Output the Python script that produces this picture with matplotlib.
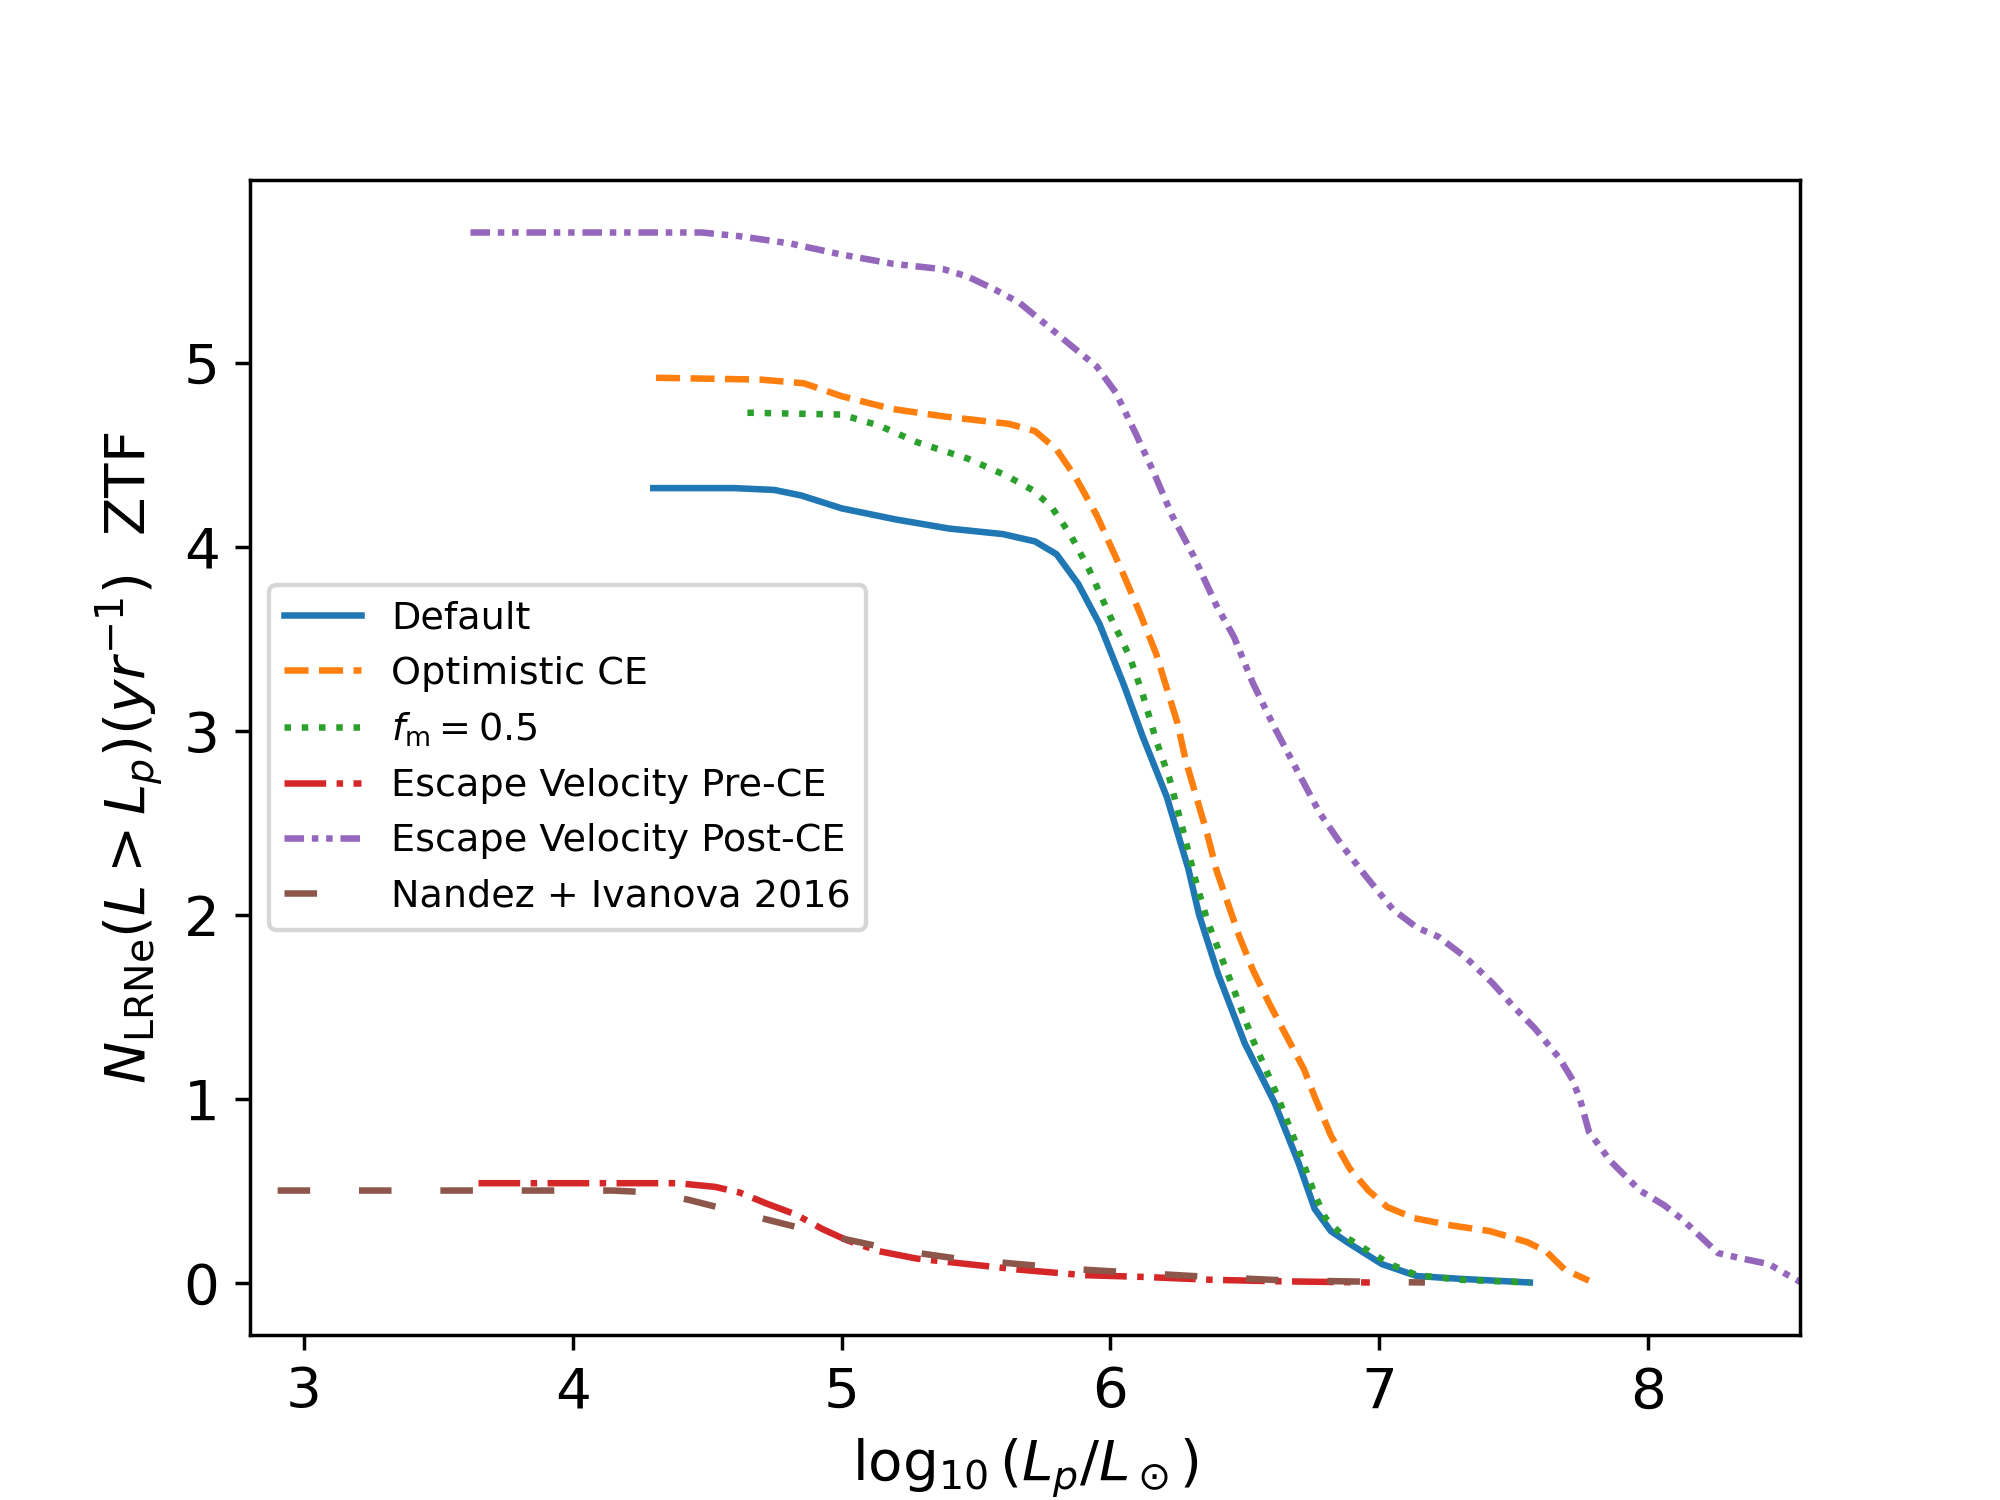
import numpy as np
import matplotlib
matplotlib.use('Agg')
import matplotlib.pyplot as plt

# Default
default_x = [4.30, 4.60, 4.75, 4.85, 5.00, 5.20, 5.40, 5.60, 5.72, 5.80, 5.88, 5.96, 6.05,
             6.12, 6.21, 6.29, 6.33, 6.40, 6.50, 6.61, 6.70, 6.76, 6.82, 6.88, 7.01, 7.14,
             7.30, 7.56]
default_y = [4.32, 4.32, 4.31, 4.28, 4.21, 4.15, 4.10, 4.07, 4.03, 3.96, 3.80, 3.58, 3.25,
             2.97, 2.64, 2.25, 2.00, 1.68, 1.30, 0.98, 0.65, 0.40, 0.28, 0.22, 0.10, 0.035,
             0.02, 0.0]

# Optimistic CE
optimistic_x = [4.31, 4.70, 4.86, 5.00, 5.19, 5.38, 5.62, 5.72, 5.80, 5.87, 5.95, 6.04, 6.11,
                6.17, 6.21, 6.25, 6.28, 6.32, 6.36, 6.395, 6.44, 6.48, 6.53, 6.59, 6.655,
                6.72, 6.76, 6.82, 6.89, 6.96, 7.03, 7.13, 7.27, 7.41, 7.55, 7.62, 7.69, 7.78]
optimistic_y = [4.92, 4.91, 4.89, 4.82, 4.75, 4.71, 4.67, 4.63, 4.53, 4.38, 4.17, 3.88, 3.64,
                3.42, 3.23, 3.04, 2.84, 2.64, 2.44, 2.24, 2.05, 1.88, 1.70, 1.52, 1.34,
                1.16, 1.01, 0.80, 0.62, 0.50, 0.41, 0.35, 0.31, 0.28, 0.22, 0.17, 0.07, 0.01]

# f_m = 0.5
fm_x = [4.65, 5.00, 5.14, 5.28, 5.47, 5.61, 5.71, 5.78, 5.85, 5.92, 6.00, 6.07, 6.12, 6.17,
        6.22, 6.27, 6.32, 6.36, 6.41, 6.46, 6.53, 6.62, 6.70, 6.76, 6.80, 6.86, 6.95, 7.04,
        7.14, 7.30, 7.56]
fm_y = [4.73, 4.72, 4.66, 4.57, 4.48, 4.39, 4.31, 4.22, 4.07, 3.88, 3.62, 3.41, 3.20, 2.95,
        2.74, 2.46, 2.17, 1.97, 1.78, 1.59, 1.32, 1.02, 0.72, 0.48, 0.35, 0.26, 0.18, 0.10,
        0.04, 0.015, 0.0]

# Escape Velocity Pre-CE
pre_x = [3.65, 4.39, 4.53, 4.62, 4.72, 4.83, 4.93, 5.02, 5.14, 5.28, 5.47, 5.66, 5.90, 6.13,
         6.37, 6.61, 6.965]
pre_y = [0.54, 0.54, 0.52, 0.49, 0.43, 0.37, 0.29, 0.23, 0.17, 0.13, 0.10, 0.07, 0.04, 0.03,
         0.015, 0.007, 0.0]

# Escape Velocity Post-CE
post_x = [3.62, 4.48, 4.62, 4.81, 5.00, 5.19, 5.38, 5.47, 5.57, 5.66, 5.76, 5.85, 5.95, 6.02,
          6.09, 6.16, 6.23, 6.31, 6.395, 6.46, 6.53, 6.61, 6.70, 6.78, 6.865, 6.95, 7.05,
          7.14, 7.22, 7.32, 7.42, 7.50, 7.58, 7.67, 7.72, 7.75, 7.78, 7.86, 7.97, 8.06, 8.13,
          8.18, 8.26, 8.35, 8.45, 8.52, 8.57]
post_y = [5.71, 5.71, 5.69, 5.65, 5.59, 5.54, 5.51, 5.47, 5.40, 5.33, 5.21, 5.10, 4.98, 4.84,
          4.63, 4.41, 4.17, 3.95, 3.68, 3.51, 3.26, 3.02, 2.77, 2.55, 2.37, 2.21, 2.03,
          1.93, 1.88, 1.77, 1.63, 1.50, 1.38, 1.22, 1.10, 0.98, 0.82, 0.66, 0.50, 0.42, 0.34,
          0.27, 0.16, 0.13, 0.10, 0.04, 0.0]

# Nandez + Ivanova 2016
ni_x = [2.60, 4.15, 4.29, 4.43, 4.62, 4.81, 5.00, 5.19, 5.43, 5.66, 5.90, 6.13, 6.37, 6.61,
        6.84, 7.17]
ni_y = [0.50, 0.50, 0.49, 0.45, 0.38, 0.31, 0.24, 0.18, 0.13, 0.10, 0.07, 0.05, 0.03, 0.014,
        0.007, 0.0]

fig, ax = plt.subplots(figsize=(6.4, 4.8), dpi=312.5)

ax.plot(default_x, default_y, color='C0', ls='-', label='Default')
ax.plot(optimistic_x, optimistic_y, color='C1', ls='--', label='Optimistic CE')
ax.plot(fm_x, fm_y, color='C2', ls=':', label=r'$f_{\rm m} = 0.5$')
ax.plot(pre_x, pre_y, color='C3', ls='-.', label='Escape Velocity Pre-CE')
ax.plot(post_x, post_y, color='C4', ls=(0, (3, 1.2, 1, 1.2, 1, 1.2)),
        label='Escape Velocity Post-CE')
ax.plot(ni_x, ni_y, color='C5', ls=(0, (5, 7.5)), label='Nandez + Ivanova 2016')

ax.set_xlim(2.8, 8.565)
ax.set_xticks([3, 4, 5, 6, 7, 8])
ax.set_yticks([0, 1, 2, 3, 4, 5])
ax.tick_params(labelsize=13)
ax.set_xlabel(r'$\log_{10}(L_p/L_\odot)$', fontsize=13)
ax.set_ylabel(r'$N_{\rm LRNe}(L > L_p) (yr^{-1})$  ZTF', fontsize=13)
ax.legend(loc='center left', fontsize=8.8)

plt.savefig('out.png', dpi=312.5)
